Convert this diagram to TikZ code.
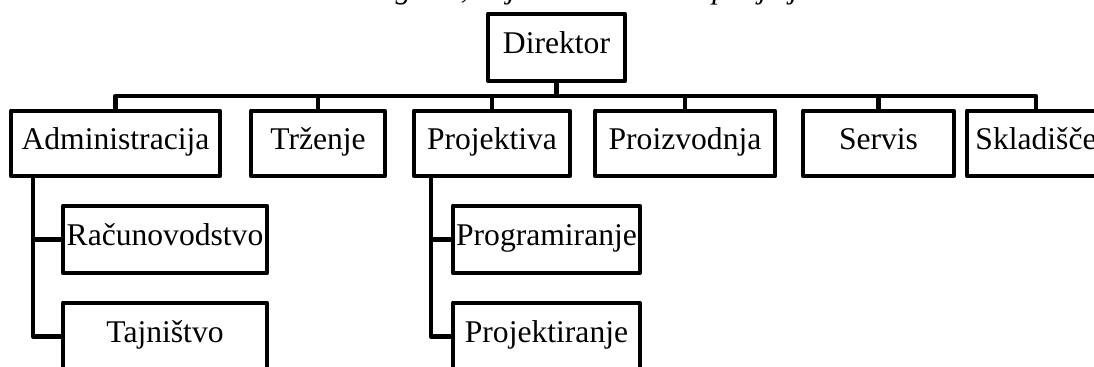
\documentclass[tikz,border=0pt]{standalone}
\usepackage{fontspec}
\setmainfont{Liberation Serif}
\begin{document}
\begin{tikzpicture}[x=0.5pt,y=-0.5pt,
  every node/.style={inner sep=0pt, outer sep=0pt},
  orgbox/.style={draw=black, line width=2.4pt, line join=round, fill=white,
    font=\fontsize{15.8}{18}\selectfont, text height=0.8em, text depth=0.2em},
  link/.style={draw=black, line width=2.4pt, line join=round}]
\useasboundingbox (0,0) rectangle (1094,367);
% cut-off caption above the picture
\node[anchor=base west, font=\fontsize{15.5}{18}\selectfont\itshape] (cap) at (349,-1) {Diagram, objektna struktura podjetja};
% boxes (sizes in pt = half the pixel sizes)
\node[orgbox, minimum width=68.5pt, minimum height=33.5pt] (dir) at (556.5,47.5) {Direktor};
\node[orgbox, minimum width=104.5pt, minimum height=32.5pt] (adm) at (115.5,143.5) {Administracija};
\node[orgbox, minimum width=67pt, minimum height=32.5pt] (trz) at (318,143.5) {Trženje};
\node[orgbox, minimum width=78pt, minimum height=32.5pt] (prj) at (492,143.5) {Projektiva};
\node[orgbox, minimum width=90pt, minimum height=32.5pt] (pro) at (685,143.5) {Proizvodnja};
\node[orgbox, minimum width=75.5pt, minimum height=32.5pt] (ser) at (878.5,143.5) {Servis};
\node[orgbox, minimum width=69pt, minimum height=32.5pt] (skl) at (1036,143.5) {Skladišče};
\node[orgbox, minimum width=102pt, minimum height=33.5pt] (rac) at (165,239.5) {Računovodstvo};
\node[orgbox, minimum width=102pt, minimum height=33.5pt] (taj) at (165,336.5) {Tajništvo};
\node[orgbox, minimum width=93.5pt, minimum height=33.5pt] (prg) at (546.5,239.5) {Programiranje};
\node[orgbox, minimum width=93.5pt, minimum height=33.5pt] (pjk) at (546.5,336.5) {Projektiranje};
% connectors
\coordinate (bus) at (556.5,96);
\draw[link] (dir.south) -- (bus);
\foreach \c in {adm,trz,prj,pro,ser,skl}{\draw[link] (bus) -| (\c.north);}
\coordinate (admsp) at (33,176);
\coordinate (prjsp) at (431,176);
\draw[link] (admsp) |- (rac.west);
\draw[link] (admsp) |- (taj.west);
\draw[link] (prjsp) |- (prg.west);
\draw[link] (prjsp) |- (pjk.west);
\end{tikzpicture}
\end{document}
